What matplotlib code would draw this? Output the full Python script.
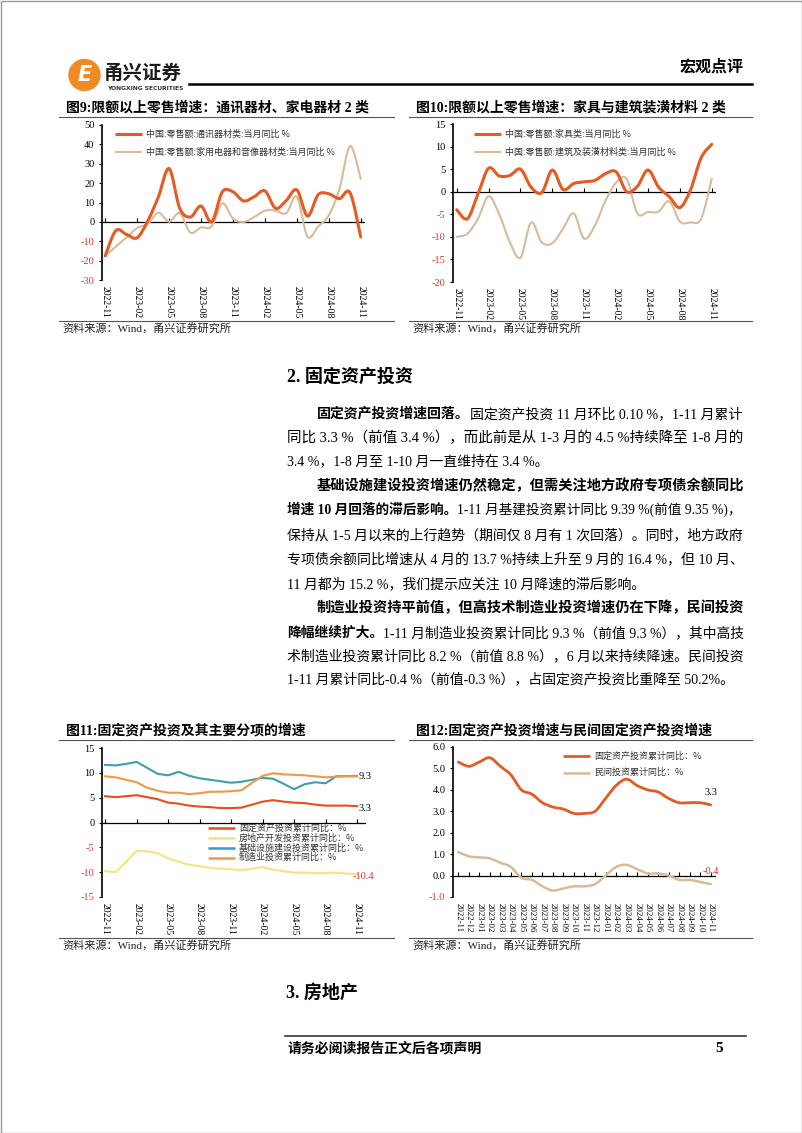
import matplotlib.pyplot as plt
from matplotlib.path import Path
from matplotlib.patches import PathPatch, Circle, Rectangle

W, H = 802, 1133
CJK = ['Noto Sans CJK SC', 'DejaVu Sans']
SER = ['Liberation Serif', 'Noto Sans CJK SC']
plt.rcParams['font.family'] = CJK

months = ['2022-11', '2022-12', '2023-01', '2023-02', '2023-03', '2023-04', '2023-05',
          '2023-06', '2023-07', '2023-08', '2023-09', '2023-10', '2023-11', '2023-12',
          '2024-01', '2024-02', '2024-03', '2024-04', '2024-05', '2024-06', '2024-07',
          '2024-08', '2024-09', '2024-10', '2024-11']

# fig 9
comm = [-17.5, -4.5, -6.5, -8.2, 0.5, 13.0, 27.5, 7.0, 2.5, 8.2, 0.0, 15.5, 15.5, 10.8,
        13.0, 16.0, 7.0, 11.0, 16.5, 3.0, 14.0, 14.5, 12.0, 15.0, -7.8]
appl = [-17.5, -12.8, -8.0, -3.2, -1.0, 4.7, 0.1, 4.5, -5.5, -2.9, -2.3, 9.6, 1.7, 0.0,
        2.5, 5.8, 5.8, 4.5, 12.9, -7.6, -2.4, 3.4, 17.0, 39.2, 22.2]
# fig 10
furn = [-4.0, -6.0, -0.5, 5.2, 3.5, 3.6, 5.0, 1.0, -0.2, 4.8, 0.5, 1.8, 2.2, 2.5,
        4.0, 4.4, 0.0, 1.2, 4.8, 1.0, -1.1, -3.5, 0.4, 7.5, 10.5]
build = [-10.0, -9.3, -6.0, -1.0, -5.0, -11.2, -14.6, -6.8, -11.2, -11.4, -8.2, -4.8, -10.4,
         -7.5, -2.0, 2.0, 2.8, -4.8, -4.5, -4.4, -2.1, -6.6, -6.8, -6.0, 2.9]
# fig 11 / 12
fai = [5.3, 5.1, 5.3, 5.5, 5.1, 4.7, 4.0, 3.8, 3.4, 3.2, 3.1, 2.9, 2.9, 3.0, 3.6, 4.2,
       4.5, 4.2, 4.0, 3.9, 3.6, 3.4, 3.4, 3.4, 3.3]
realty = [-9.8, -10.0, -7.9, -5.7, -5.8, -6.2, -7.2, -7.9, -8.5, -8.8, -9.1, -9.3, -9.4,
          -9.6, -9.3, -9.0, -9.5, -9.8, -10.1, -10.1, -10.2, -10.2, -10.1, -10.3, -10.4]
infra = [11.6, 11.5, 11.8, 12.2, 11.0, 9.8, 9.5, 10.2, 9.4, 8.9, 8.6, 8.3, 8.0, 8.2, 8.6,
         9.0, 8.8, 7.8, 6.7, 7.7, 8.1, 7.9, 9.3, 9.35, 9.39]
mfg = [9.3, 9.1, 8.6, 8.1, 7.0, 6.4, 6.0, 6.0, 5.7, 5.9, 6.2, 6.2, 6.3, 6.5, 8.0, 9.4,
       9.9, 9.7, 9.6, 9.5, 9.3, 9.1, 9.2, 9.3, 9.3]
private = [1.1, 0.9, 0.85, 0.8, 0.6, 0.4, -0.1, -0.2, -0.5, -0.7, -0.6, -0.5, -0.5, -0.4,
           0.0, 0.4, 0.5, 0.3, 0.1, 0.1, 0.0, -0.2, -0.2, -0.3, -0.4]

RED = '#E0332B'
ORG = '#E65A24'
BEI = '#D8BB98'

fig = plt.figure(figsize=(W / 100, H / 100), dpi=100)
page = fig.add_axes([0, 0, 1, 1])
page.set_xlim(0, W); page.set_ylim(H, 0); page.axis('off')
rend = fig.canvas.get_renderer()


def rect(x0, y0, x1, y1):
    return [x0 / W, 1 - y1 / H, (x1 - x0) / W, (y1 - y0) / H]


def smooth(ax, ys, color, lw):
    # excel-style smoothed line: cubic bezier through the data points
    n = len(ys)
    xs = list(range(n))
    verts = [(xs[0], ys[0])]
    codes = [Path.MOVETO]
    for i in range(n - 1):
        a = max(i - 1, 0); d = min(i + 2, n - 1)
        verts.append((xs[i] + (xs[i + 1] - xs[a]) / 6, ys[i] + (ys[i + 1] - ys[a]) / 6))
        verts.append((xs[i + 1] - (xs[d] - xs[i]) / 6, ys[i + 1] - (ys[d] - ys[i]) / 6))
        verts.append((xs[i + 1], ys[i + 1]))
        codes += [Path.CURVE4] * 3
    ax.add_patch(PathPatch(Path(verts, codes), fill=False, edgecolor=color, lw=lw,
                           joinstyle='round', capstyle='round', zorder=3))


def setup(ax, ylim, yticks, xlim, step, fmt, xfs=7):
    ax.set_xlim(*xlim); ax.set_ylim(*ylim)
    ax.patch.set_alpha(0)
    for s in ['top', 'right', 'bottom']:
        ax.spines[s].set_visible(False)
    ax.spines['left'].set_linewidth(1.2)
    ax.axhline(0, color='black', lw=0.9, zorder=2)
    ax.set_yticks(yticks)
    ax.set_yticklabels([fmt.format(v) for v in yticks], family=SER, fontsize=7.5)
    for v, lb in zip(yticks, ax.get_yticklabels()):
        lb.set_color(RED if v < 0 else 'black')
    xt = list(range(0, 25, step))
    ax.set_xticks(xt)
    ax.set_xticklabels([months[i] for i in xt], rotation=-90, family=SER, fontsize=xfs)
    ax.tick_params(axis='x', length=0, pad=4)
    ax.tick_params(axis='y', direction='out', length=2.5, width=0.8, pad=3)
    ax.plot(xt, [0] * len(xt), ls='none', marker=2, ms=3, mew=0.8, color='black',
            clip_on=False, zorder=2)


def frame(x0, x1, title, ytitle, ysrc):
    page.text(x0 + 7, ytitle, title, family=SER, fontweight='bold', fontsize=10,
              va='center', ha='left')
    page.plot([x0, x1], [ytitle + 9, ytitle + 9], color='#555555', lw=0.8)
    page.plot([x0, x1], [ysrc - 7, ysrc - 7], color='#555555', lw=0.8)
    page.text(x0 + 3, ysrc, '资料来源：Wind，甬兴证券研究所', family=SER, fontsize=8,
              va='center', ha='left', color='#222222')


def leg(x, y, color, lw, label, fs=6.5):
    page.plot([x, x + 27], [y, y], color=color, lw=lw, solid_capstyle='butt')
    page.text(x + 31, y, label, fontsize=fs, va='center', ha='left', color='#333333')


# page frame and header
page.add_patch(Rectangle((0.5, 0.5), W - 1, H - 1, fill=False, edgecolor='#999999', lw=1))
page.add_patch(Circle((84.5, 75), 15.5, color='#F08A24'))
page.text(84.5, 75, 'E', color='white', fontsize=15, fontweight='bold', style='italic',
          family='DejaVu Sans', ha='center', va='center')
page.text(104, 73, '甬兴证券', fontsize=14, fontweight='bold', va='center', ha='left',
          color='#1a1a1a')
page.text(107, 88, 'YONGXING SECURITIES', fontsize=4.3, fontweight='bold',
          family='DejaVu Sans', va='center', ha='left', color='#333333')
page.plot([189, 752], [83.5, 83.5], color='black', lw=1.8)
page.text(744, 67, '宏观点评', fontsize=11.5, fontweight='bold', va='center', ha='right')

# fig 9
frame(59, 394, '图9:限额以上零售增速：通讯器材、家电器材 2 类', 108, 328)
ax9 = fig.add_axes(rect(102, 125, 365, 280))
setup(ax9, (-30, 50), list(range(-30, 51, 10)), (-0.3, 24.4), 3, '{:d}')
smooth(ax9, appl, BEI, 1.5)
smooth(ax9, comm, ORG, 2.2)
leg(115, 134, ORG, 2.2, '中国:零售额:通讯器材类:当月同比 %')
leg(115, 152, BEI, 1.5, '中国:零售额:家用电器和音像器材类:当月同比 %')

# fig 10
frame(409, 752, '图10:限额以上零售增速：家具与建筑装潢材料 2 类', 108, 328)
ax10 = fig.add_axes(rect(453, 124, 716, 282))
setup(ax10, (-20, 15), list(range(-20, 16, 5)), (-0.35, 24.4), 3, '{:d}')
smooth(ax10, build, BEI, 1.5)
smooth(ax10, furn, ORG, 2.2)
leg(474, 134, ORG, 2.2, '中国:零售额:家具类:当月同比 %')
leg(474, 152, BEI, 1.5, '中国:零售额:建筑及装潢材料类:当月同比 %')

# fig 11
frame(59, 394, '图11:固定资产投资及其主要分项的增速', 731, 945)
ax11 = fig.add_axes(rect(102, 748, 366, 897))
setup(ax11, (-15, 15), list(range(-15, 16, 5)), (-0.3, 24.85), 3, '{:d}')
xs = list(range(25))
ax11.plot(xs, realty, color='#F6E27F', lw=1.5)
ax11.plot(xs, infra, color='#3F9CB5', lw=1.5)
ax11.plot(xs, mfg, color='#EF9847', lw=1.5)
ax11.plot(xs, fai, color='#E84E1B', lw=1.5)
ax11.annotate('9.3', (24, mfg[-1]), xytext=(1, 0), textcoords='offset points',
              family=SER, fontsize=7.5, va='center', ha='left')
ax11.annotate('3.3', (24, fai[-1]), xytext=(1, -1.5), textcoords='offset points',
              family=SER, fontsize=7.5, va='center', ha='left')
ax11.annotate('-10.4', (24, realty[-1]), xytext=(-3, -1.5), textcoords='offset points',
              family=SER, fontsize=7.5, va='center', ha='left', color=RED)
leg(208, 828, '#E84E1B', 1.8, '固定资产投资累计同比：%')
leg(208, 838, '#F6E27F', 1.8, '房地产开发投资累计同比：%')
leg(208, 848, '#3F9CB5', 1.8, '基础设施建设投资累计同比：%')
leg(208, 857.5, '#EF9847', 1.8, '制造业投资累计同比：%')

# fig 12
frame(409, 752, '图12:固定资产投资增速与民间固定资产投资增速', 731, 945)
ax12 = fig.add_axes(rect(453, 747, 716, 897))
setup(ax12, (-1, 6), list(range(-1, 7)), (-0.5, 24.5), 1, '{:.1f}', xfs=6.3)
smooth(ax12, private, BEI, 1.8)
smooth(ax12, fai, ORG, 2.0)
ax12.annotate('3.3', (24, fai[-1]), xytext=(0, 9), textcoords='offset points',
              family=SER, fontsize=7.5, va='center', ha='center')
ax12.annotate('-0.4', (24, private[-1]), xytext=(0, 9), textcoords='offset points',
              family=SER, fontsize=7.5, va='center', ha='center', color=RED)
leg(563, 756, ORG, 2.0, '固定资产投资累计同比：%')
leg(563, 772.5, BEI, 1.8, '民间投资累计同比：%')


# body text
def line(x, y, segs, size=10, end=None):
    def lay(sz):
        objs, cx = [], x
        for s, b in segs:
            t = page.text(cx, y + 5, s, family=SER, fontsize=sz,
                          fontweight='bold' if b else 'normal', va='baseline', ha='left')
            cx += t.get_window_extent(renderer=rend).width
            objs.append(t)
        return objs, cx - x
    objs, w = lay(size)
    if end is not None:
        for o in objs:
            o.remove()
        lay(size * (end - x) / w)


L, R = 287, 743
page.text(L, 377, '2. 固定资产投资', family=SER, fontsize=13, fontweight='bold',
          va='center', ha='left')
line(L + 30, 413, [('固定资产投资增速回落。', 1),
                   ('固定资产投资 11 月环比 0.10 %，1-11 月累计', 0)], end=R)
line(L, 437, [('同比 3.3 %（前值 3.4 %），而此前是从 1-3 月的 4.5 %持续降至 1-8 月的', 0)], end=R)
line(L, 460, [('3.4 %，1-8 月至 1-10 月一直维持在 3.4 %。', 0)])
line(L + 30, 485, [('基础设施建设投资增速仍然稳定，但需关注地方政府专项债余额同比', 1)], end=R)
line(L, 509, [('增速 10 月回落的滞后影响。', 1),
              ('1-11 月基建投资累计同比 9.39 %(前值 9.35 %)，', 0)], end=R)
line(L, 534, [('保持从 1-5 月以来的上行趋势（期间仅 8 月有 1 次回落）。同时，地方政府', 0)], end=R)
line(L, 559, [('专项债余额同比增速从 4 月的 13.7 %持续上升至 9 月的 16.4 %，但 10 月、', 0)], end=R)
line(L, 583, [('11 月都为 15.2 %，我们提示应关注 10 月降速的滞后影响。', 0)])
line(L + 30, 607, [('制造业投资持平前值，但高技术制造业投资增速仍在下降，民间投资', 1)], end=R)
line(L, 632, [('降幅继续扩大。', 1),
              ('1-11 月制造业投资累计同比 9.3 %（前值 9.3 %），其中高技', 0)], end=R)
line(L, 655, [('术制造业投资累计同比 8.2 %（前值 8.8 %），6 月以来持续降速。民间投资', 0)], end=R)
line(L, 678, [('1-11 月累计同比-0.4 %（前值-0.3 %），占固定资产投资比重降至 50.2%。', 0)])

page.text(L - 1, 993, '3. 房地产', family=SER, fontsize=13, fontweight='bold',
          va='center', ha='left')

# footer
page.plot([285, 746], [1036, 1036], color='#333333', lw=1.2)
page.text(288, 1048, '请务必阅读报告正文后各项声明', fontsize=10, fontweight='bold',
          va='center', ha='left')
page.text(719, 1048, '5', family=SER, fontsize=11, fontweight='bold', va='center', ha='center')

fig.savefig('out.png', dpi=100)
